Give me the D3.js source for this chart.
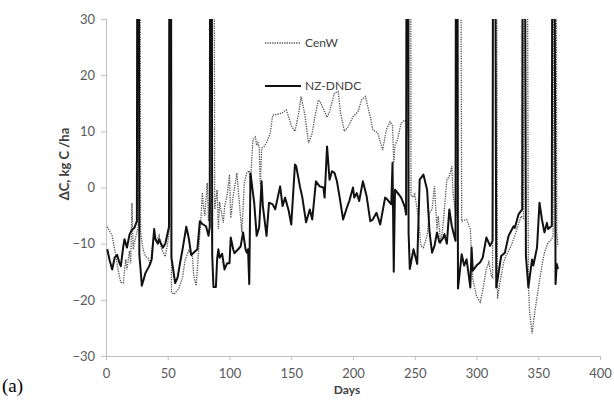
<!DOCTYPE html>
<html><head><meta charset="utf-8">
<script src="https://cdn.jsdelivr.net/npm/d3@7"></script>
<style>body{margin:0;background:#fff}svg{display:block}</style>
</head><body>
<svg id="c" width="614" height="405"></svg>
<script>
const xTicks=[0,50,100,150,200,250,300,350,400];
const yTicks=[-30,-20,-10,0,10,20,30];
const seriesNames=["CenW","NZ-DNDC"];
const dndcDays=[1,3,5,7,9,11,12,14,15,17,19,21,23,25,26,27,28,29,32,35,37,39,40,42,43,46,48,50,51,52,53,56,58,60,62,65,67,69,72,74,76,78,81,83,84,85,86,87,89,90,91,92,94,96,98,100,101,103,104,107,109,111,113,114,115,116,117,119,120,122,124,126,127,130,132,135,137,141,143,145,148,150,153,154,157,159,162,165,167,170,173,176,177,179,181,183,185,187,189,192,195,197,200,201,203,205,208,211,214,216,219,222,226,228,231,232,233,234,237,239,242,243,244,245,246,249,252,254,257,260,262,264,266,268,270,273,274,276,278,280,283,284,285,288,290,292,295,296,297,300,303,305,308,311,313,314,316,320,323,326,330,331,334,337,338,340,342,345,346,349,351,353,355,357,358,361,362,364,365,366];
const dndcVals=[-11,-13,-14.6,-12.5,-12,-13.5,-14,-10.5,-9.2,-10.7,-8.4,-7.5,-7.2,-6,150,-12,-14.6,-17.5,-15.2,-14,-12.8,-7.4,-9.2,-10,-9.2,-10.7,-10,-8,-7,150,-12.5,-17,-16,-13.4,-11,-7,-9,-12,-11.4,-11,-6,-6.5,-6.9,-8.6,-7,150,-12,-17.7,-17.7,-12.7,-11,-12.5,-11.8,-14.6,-13.5,-13.5,-8.9,-11,-11.7,-11,-10.5,-8,-11,-11.6,-11,-17.2,2.5,-1,-2.7,-8.6,-7.1,1.1,-3.3,-8.6,-2.7,-3,-3.9,0.2,-3.3,-1.8,-4.2,-6.6,4.1,3.8,0.2,-1.8,-6.2,-3.9,-5.7,1.1,0.2,0,-1.8,7.3,1.4,2.9,2.6,1.1,-1.5,-5.7,-3.6,-2.4,0,-1.8,-1,-2.4,1.1,-1.5,-6,-5.7,-4.5,-6.6,-1.8,-2.2,-3,4.4,-15,-0.4,-1.2,-1.8,-3.5,-4.8,150,-8,-14.5,-11,-13.6,1.4,2.3,-0.4,-8,-11.6,-10.4,-8,-9.8,-9,-8.3,-10,-3.9,-6.9,-9.5,150,-18,-11.9,-13.9,-12.8,-17.8,-10.7,-14.8,-13.9,-13.3,-12.5,-8.9,-10.4,-9.5,150,-17.8,-12.2,-11.6,-8.6,-6.9,-7.2,-4.8,-3.9,150,-12.2,-17.8,-12.8,-13.9,-10.7,-2.7,-5.7,-8,-6.3,-7.4,-6.8,150,-17.2,-13.6,-14.5];
const cenwDays=[1,3,5,7,9,11,12,14,16,17,19,20,21,22,23,25,26,27,28,30,32,34,36,38,39,41,43,45,48,50,51,52,53,55,57,59,62,64,67,70,71,73,75,77,78,79,80,82,83,84,85,86,87,88,90,91,92,95,96,98,100,101,103,106,108,110,112,114,116,117,118,119,121,122,123,124,125,126,128,130,133,135,138,142,146,148,150,153,156,158,161,164,167,169,172,174,177,179,181,185,188,190,193,196,200,204,207,210,214,216,220,224,227,230,232,233,234,236,239,242,244,245,246,247,249,250,252,253,255,257,260,262,264,266,268,269,271,273,276,278,280,281,283,284,286,288,292,295,297,300,303,305,308,310,312,313,315,317,319,322,324,328,332,336,338,340,342,343,345,347,350,353,355,358,361,362,364,365,366];
const cenwVals=[-7,-7.8,-8.6,-11,-13.6,-16,-16.9,-17,-12.8,-14.6,-11.3,-13.5,-2.7,-11,-9.8,-8,-7,150,-8,-11,-12.3,-12.5,-13.8,-9.5,-8.6,-9.5,-8.5,-11,-12.3,-9.8,-8,150,-18.7,-19,-18.5,-18,-16,-13,-11.2,-12.3,-15.7,-17.5,-11.2,-5.1,-0.9,-3.5,-5,0.8,-6,-2,-5,-10,150,-3.9,-0.4,-7.4,-2.6,-6.3,-3.4,-1.5,2.3,-5.4,-1.5,2.6,-2.8,-8,0.8,2.6,3,0,5,8.5,9,7.5,8,7.3,0.3,7,7.3,8,9.7,12.9,13,13.2,13.8,12.5,11,10,13.2,16.2,13,7.9,9.7,12.5,15.6,15,13.5,12.5,13.5,16.8,17.1,13.2,10,10.8,12.6,13.5,15.6,16.2,12.6,10.3,9.7,6.7,10.3,11.7,11,4.4,7.5,8.5,11.5,12,11.5,9,150,-1.5,-1.7,-1.2,-3.9,-5.7,-10.4,-10.7,-8.6,-4.5,-3.9,0.2,-7.5,-5.1,-10,-6.5,1.4,2,3.8,-1,-4.5,-5,150,-6,-5.7,-7.4,-16.3,-19.3,-20.4,-18.4,-14.5,-13.3,-15.7,-16,150,-19.8,-16.9,-13.3,-12.1,-10.4,-8,-5.1,-5.5,150,-17,-22.2,-26,-22.5,-18,-13.9,-11.6,-9.8,-9.2,-8.5,150,-8,-10.5];

const svg=d3.select("#c");
const x=d3.scaleLinear().domain([0,400]).range([106,600]);
const y=d3.scaleLinear().domain([-30,30]).range([356,19]);
const font="Lato, 'Open Sans', sans-serif";

svg.append("defs").append("clipPath").attr("id","clip")
  .append("rect").attr("x",106).attr("y",19).attr("width",494).attr("height",337);

// axes
const yAxis=svg.append("g").attr("transform","translate(106,0)")
  .call(d3.axisLeft(y).tickValues(yTicks).tickSize(5).tickPadding(6));
const xAxis=svg.append("g").attr("transform","translate(0,356)")
  .call(d3.axisBottom(x).tickValues(xTicks).tickSize(4).tickPadding(9));
[yAxis,xAxis].forEach(g=>{
  g.selectAll("path,line").attr("stroke","#bfbfbf").attr("stroke-width",1);
  g.selectAll("text").attr("fill","#595959").style("font-family",font).style("font-size","13px");
});

const cenw=cenwDays.map((d,i)=>[d,cenwVals[i]]);
const dndc=dndcDays.map((d,i)=>[d,dndcVals[i]]);
const line=d3.line().x(d=>x(d[0])).y(d=>y(d[1]));
const plot=svg.append("g").attr("clip-path","url(#clip)");
plot.append("path").datum(cenw).attr("d",line).attr("fill","none")
  .attr("stroke","#555").attr("stroke-width",1.3).attr("stroke-dasharray","1.3,1.1");
plot.append("path").datum(dndc).attr("d",line).attr("fill","none")
  .attr("stroke","#111").attr("stroke-width",2).attr("stroke-linejoin","round");

// legend
const lg=svg.append("g");
lg.append("line").attr("x1",265).attr("x2",300).attr("y1",43).attr("y2",43)
  .attr("stroke","#555").attr("stroke-width",1.3).attr("stroke-dasharray","1.3,1.1");
lg.append("text").attr("x",305).attr("y",47).text(seriesNames[0])
  .attr("fill","#404040").style("font-family",font).style("font-size","12px");
lg.append("line").attr("x1",265).attr("x2",301).attr("y1",86).attr("y2",86)
  .attr("stroke","#111").attr("stroke-width",2);
lg.append("text").attr("x",305).attr("y",90).text(seriesNames[1])
  .attr("fill","#404040").style("font-family",font).style("font-size","12px");

// titles
svg.append("text").attr("x",347).attr("y",394).attr("text-anchor","middle")
  .text("Days").attr("fill","#404040").style("font-family",font)
  .style("font-size","12px").style("font-weight","bold");
svg.append("text").attr("transform","translate(69,164) rotate(-90)").attr("text-anchor","middle")
  .text("ΔC, kg C /ha").attr("fill","#404040").style("font-family",font)
  .style("font-size","13px").style("font-weight","bold");
svg.append("text").attr("x",2).attr("y",392).text("(a)")
  .attr("fill","#000").style("font-family","'Liberation Serif', serif").style("font-size","19px");
</script>
</body></html>
